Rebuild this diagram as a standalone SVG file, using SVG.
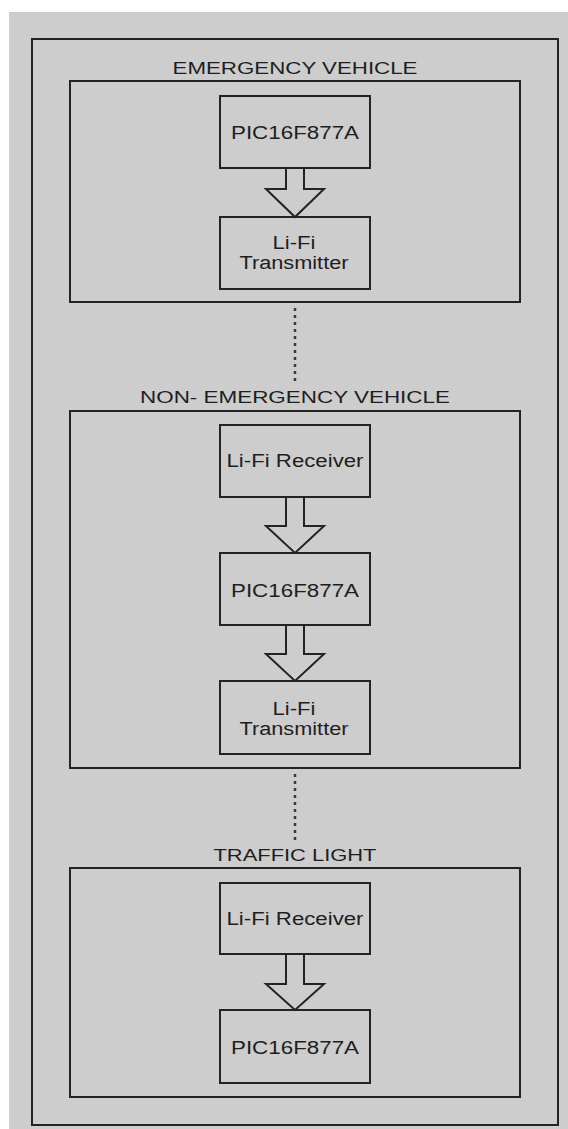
<svg xmlns="http://www.w3.org/2000/svg" width="568" height="1129" viewBox="0 0 568 1129">
<style>
.bg{fill:#cdcdcd}
.frame{fill:none;stroke:#232323;stroke-width:2}
.box{fill:#cdcdcd;stroke:#232323;stroke-width:2}
.arrow{fill:#cdcdcd;stroke:#232323;stroke-width:2;stroke-linejoin:miter}
.dot{stroke:#3a3a3a;stroke-width:2.5;stroke-dasharray:3 4;fill:none}
.t{font-family:"Liberation Sans",Arial,sans-serif;font-size:18px;fill:#1e1e1e;text-anchor:middle}
.h{font-family:"Liberation Sans",Arial,sans-serif;font-size:17px;fill:#1e1e1e;text-anchor:middle}
</style>
<rect x="0" y="0" width="568" height="1129" fill="#ffffff"/>
<rect class="bg" x="9" y="12" width="559" height="1117"/>
<rect id="outer-frame" class="frame" x="32" y="39" width="526" height="1086"/>

<g id="emergency-vehicle">
  <text class="h" x="295" y="74" textLength="245" lengthAdjust="spacingAndGlyphs">EMERGENCY VEHICLE</text>
  <rect class="frame" x="70" y="81" width="450" height="221"/>
</g>
<g id="ev-pic">
  <rect class="box" x="220" y="96" width="150" height="72"/>
  <text class="t" x="295" y="139" textLength="128" lengthAdjust="spacingAndGlyphs">PIC16F877A</text>
</g>
<g id="ev-tx">
  <rect class="box" x="220" y="217" width="150" height="72"/>
  <text class="t" x="294" y="249" textLength="43" lengthAdjust="spacingAndGlyphs">Li-Fi</text>
  <text class="t" x="294" y="269" textLength="109" lengthAdjust="spacingAndGlyphs">Transmitter</text>
</g>

<g id="non-emergency-vehicle">
  <text class="h" x="295" y="403" textLength="310" lengthAdjust="spacingAndGlyphs">NON- EMERGENCY VEHICLE</text>
  <rect class="frame" x="70" y="411" width="450" height="357"/>
</g>
<g id="nev-rx">
  <rect class="box" x="220" y="425" width="150" height="72"/>
  <text class="t" x="295" y="467" textLength="137" lengthAdjust="spacingAndGlyphs">Li-Fi Receiver</text>
</g>
<g id="nev-pic">
  <rect class="box" x="220" y="553" width="150" height="72"/>
  <text class="t" x="295" y="597" textLength="128" lengthAdjust="spacingAndGlyphs">PIC16F877A</text>
</g>
<g id="nev-tx">
  <rect class="box" x="220" y="681" width="150" height="73"/>
  <text class="t" x="294" y="715" textLength="43" lengthAdjust="spacingAndGlyphs">Li-Fi</text>
  <text class="t" x="294" y="735" textLength="109" lengthAdjust="spacingAndGlyphs">Transmitter</text>
</g>

<g id="traffic-light">
  <text class="h" x="295" y="861" textLength="163" lengthAdjust="spacingAndGlyphs">TRAFFIC LIGHT</text>
  <rect class="frame" x="70" y="868" width="450" height="229"/>
</g>
<g id="tl-rx">
  <rect class="box" x="220" y="883" width="150" height="71"/>
  <text class="t" x="295" y="925" textLength="137" lengthAdjust="spacingAndGlyphs">Li-Fi Receiver</text>
</g>
<g id="tl-pic">
  <rect class="box" x="220" y="1010" width="150" height="73"/>
  <text class="t" x="295" y="1054" textLength="128" lengthAdjust="spacingAndGlyphs">PIC16F877A</text>
</g>

<g id="connectors">
  <polygon class="arrow" points="286,168 304,168 304,189 324,189 295,217 266,189 286,189"/>
  <polygon class="arrow" points="286,497 304,497 304,526 324,526 295,553 266,526 286,526"/>
  <polygon class="arrow" points="286,625 304,625 304,654 324,654 295,681 266,654 286,654"/>
  <polygon class="arrow" points="286,954 304,954 304,984 324,984 295,1010 266,984 286,984"/>
  <line class="dot" x1="295" y1="308" x2="295" y2="382"/>
  <line class="dot" x1="295" y1="774" x2="295" y2="841"/>
</g>
</svg>
